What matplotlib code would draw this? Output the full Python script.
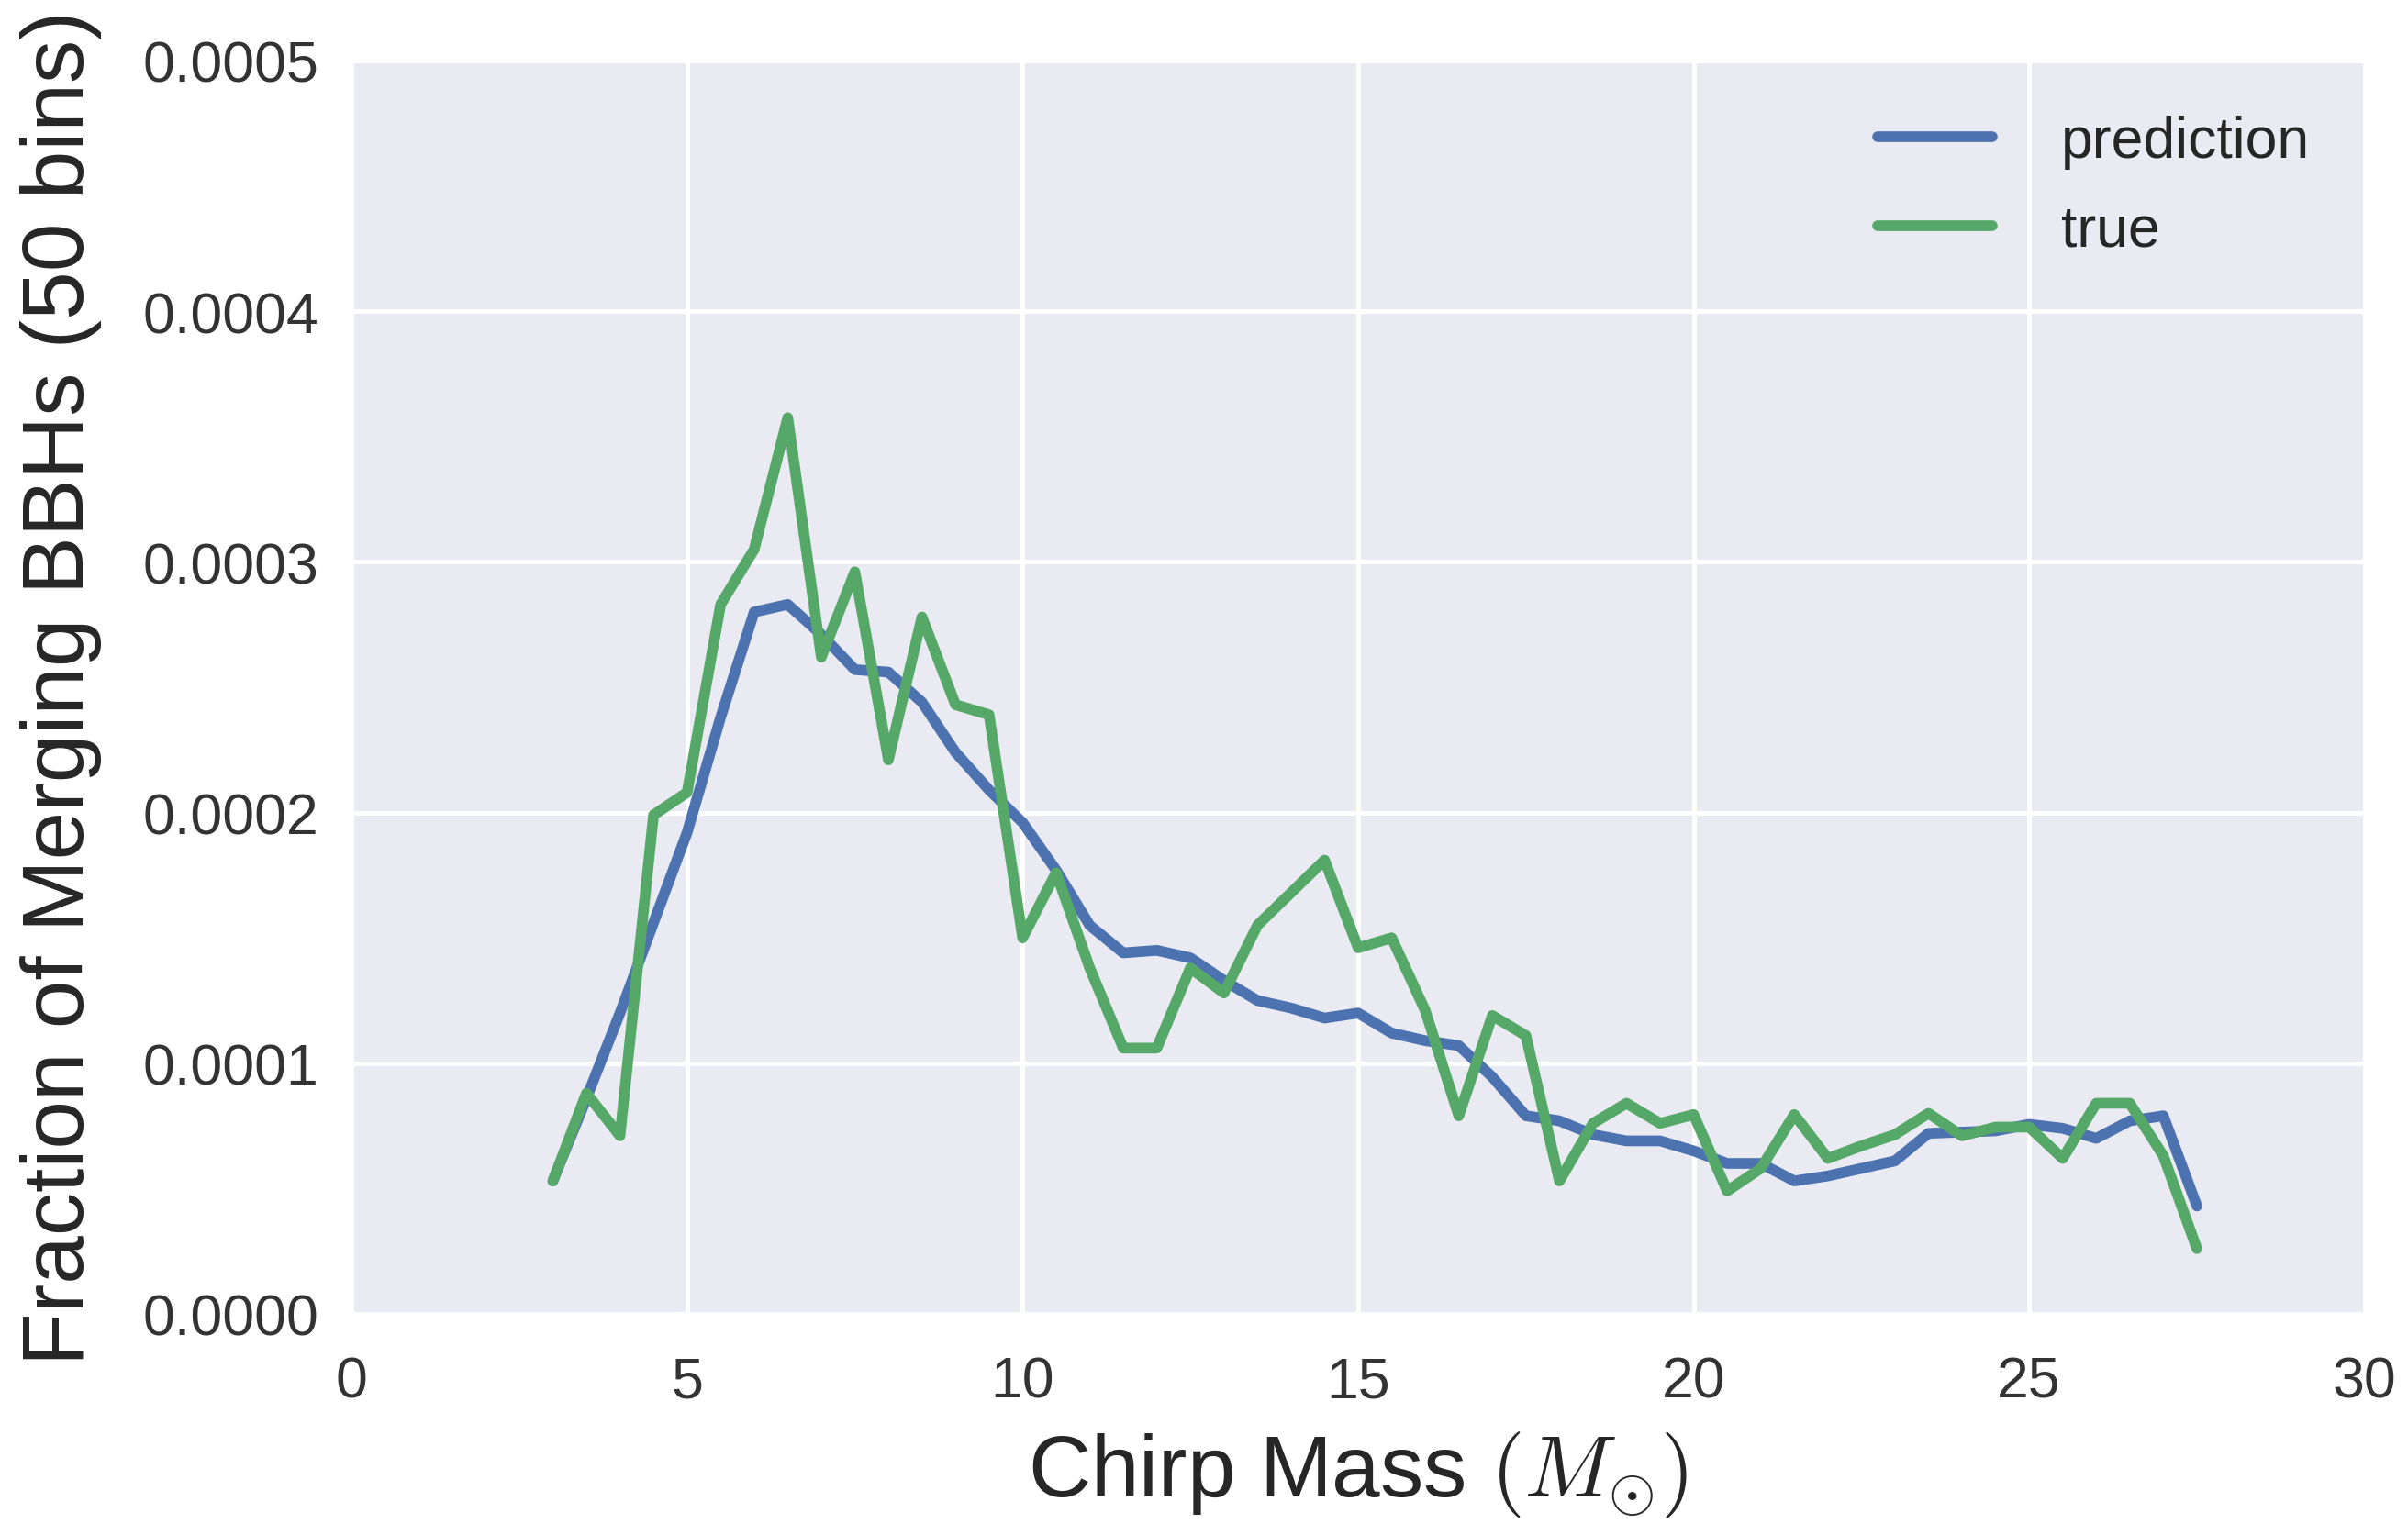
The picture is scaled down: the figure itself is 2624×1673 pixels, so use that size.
import matplotlib
matplotlib.use("Agg")
import matplotlib.pyplot as plt
import seaborn as sns

# chirp mass bin centres (50 bins) and fractions (units of 1e-4)
chirp_mass = [3.0 + 0.5 * i for i in range(50)]

prediction = [0.53, 0.86, 1.20, 1.56, 1.92, 2.38, 2.80, 2.83, 2.71, 2.57,
              2.56, 2.44, 2.24, 2.09, 1.96, 1.77, 1.55, 1.44, 1.45, 1.42,
              1.33, 1.25, 1.22, 1.18, 1.20, 1.12, 1.09, 1.07, 0.945, 0.79,
              0.77, 0.715, 0.69, 0.69, 0.65, 0.60, 0.60, 0.53, 0.55, 0.58,
              0.61, 0.72, 0.725, 0.73, 0.756, 0.74, 0.70, 0.77, 0.79, 0.43]

true = [0.53, 0.88, 0.71, 1.99, 2.08, 2.83, 3.05, 3.575, 2.62, 2.96,
        2.21, 2.78, 2.43, 2.39, 1.50, 1.76, 1.38, 1.06, 1.06, 1.38,
        1.28, 1.55, 1.68, 1.81, 1.46, 1.50, 1.21, 0.79, 1.19, 1.11,
        0.53, 0.76, 0.84, 0.76, 0.795, 0.49, 0.58, 0.795, 0.62, 0.67,
        0.715, 0.80, 0.71, 0.745, 0.745, 0.62, 0.84, 0.84, 0.63, 0.26]

prediction = [v * 1e-4 for v in prediction]
true = [v * 1e-4 for v in true]

x_ticks = [0, 5, 10, 15, 20, 25, 30]
y_ticks = [0.0, 0.0001, 0.0002, 0.0003, 0.0004, 0.0005]

sns.set_style("darkgrid")
plt.rcParams['font.family'] = ['Liberation Sans', 'DejaVu Sans']
plt.rcParams['mathtext.fontset'] = 'cm'

fig = plt.figure(figsize=(13.12, 8.37), dpi=200)
ax = fig.add_axes([0.146, 0.144, 0.836, 0.816])

ax.plot(chirp_mass, prediction, color="#4C72B0", lw=4.2, label="prediction")
ax.plot(chirp_mass, true, color="#55A868", lw=4.2, label="true")

ax.set_xlim(0, 30)
ax.set_ylim(0, 0.0005)
ax.set_xticks(x_ticks)
ax.set_yticks(y_ticks)
ax.set_yticklabels(["%.4f" % v for v in y_ticks])
ax.tick_params(axis="y", labelsize=22.5, colors="#333333", pad=13, length=0)
ax.tick_params(axis="x", labelsize=22.5, colors="#333333", pad=16, length=0)
ax.grid(True, color="white", lw=1.8)

ax.set_xlabel(r"Chirp Mass $(M_{\odot})$", fontsize=34, color="#262626", labelpad=8)
ax.set_ylabel("Fraction of Merging BBHs (50 bins)", fontsize=34, color="#262626", labelpad=16)

leg = ax.legend(loc="upper right", fontsize=22.5, frameon=False, handlelength=2.0,
                labelspacing=0.6, handletextpad=1.2, borderaxespad=0.55)
for t in leg.get_texts():
    t.set_color("#262626")

fig.savefig("out.png", dpi=200, facecolor="white")
plt.close(fig)
